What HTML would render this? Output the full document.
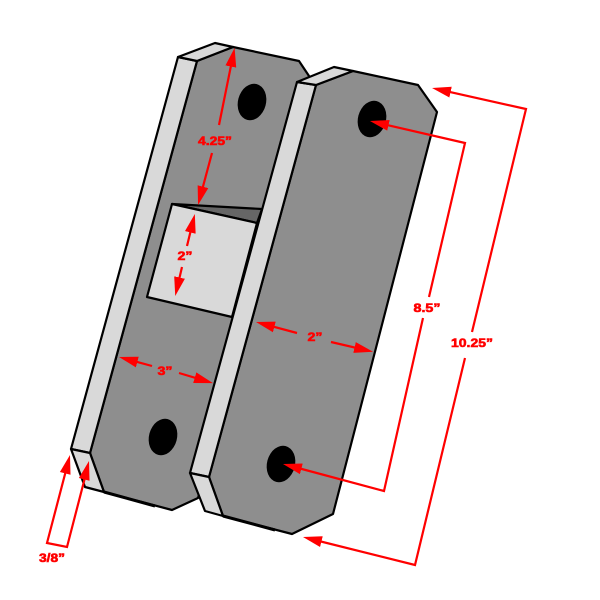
<!DOCTYPE html>
<html>
<head>
<meta charset="utf-8">
<style>
html,body{margin:0;padding:0;background:#fff;width:600px;height:600px;overflow:hidden}
svg{display:block}
.p{stroke:#000;stroke-width:2.2;stroke-linejoin:round}
.f{fill:#8e8e8e}
.l{fill:#d9d9d9}
.r{fill:none;stroke:#f00;stroke-width:2.2;stroke-linejoin:miter}
.a{marker-end:url(#h)}
text{font-family:"Liberation Sans",sans-serif;font-weight:bold;font-size:12px;fill:#f00;stroke:#f00;stroke-width:.6px;text-anchor:middle}
</style>
</head>
<body>
<svg width="600" height="600" viewBox="0 0 600 600" xmlns="http://www.w3.org/2000/svg">
<defs>
<marker id="h" markerUnits="userSpaceOnUse" markerWidth="22" markerHeight="13" refX="13" refY="6.5" orient="auto">
<polygon points="0,1 19,6.5 0,12" fill="#f00"/>
</marker>
</defs>

<!-- back plate -->
<polygon class="p f" points="197,61 233,47 299,61 309,76 230,400 198,498 172,510 104,492 90,453"/>
<polygon class="p l" points="178,57 197,61 90,453 71,449"/>
<polygon class="p l" points="178,57 215,43 233,47 197,61"/>
<polygon class="p l" points="71,449 90,453 104,492 85,487"/>
<polyline points="104,492 155,506" fill="none" stroke="#000" stroke-width="3"/>
<polygon class="p" fill="#666" points="172,204 262,209 257,223"/>
<polygon class="p l" points="172,204 257,223 232,317 147,297"/>
<ellipse cx="252" cy="102" rx="14" ry="18.5" transform="rotate(15 252 102)" fill="#000"/>
<ellipse cx="163" cy="437" rx="14" ry="18.5" transform="rotate(15 163 437)" fill="#000"/>

<!-- front plate -->
<polygon class="p f" points="316,85 353,71 418,85 437,112 333,514 292,534 223,516 209,477"/>
<polygon class="p l" points="297,82 316,85 209,477 190,473"/>
<polygon class="p l" points="297,82 334,67 353,71 316,85"/>
<polygon class="p l" points="190,473 209,477 223,516 205,511"/>
<polyline points="223,516 275,530" fill="none" stroke="#000" stroke-width="3"/>
<ellipse cx="372" cy="119" rx="14" ry="18.5" transform="rotate(15 372 119)" fill="#000"/>
<ellipse cx="281" cy="464" rx="14" ry="18.5" transform="rotate(15 281 464)" fill="#000"/>

<!-- dimension arrows -->
<path class="r a" d="M219,125 L233.4,53.8"/>
<path class="r a" d="M212,153 L199.6,199.2"/>
<path class="r a" d="M187,246 L193.4,219.8"/>
<path class="r a" d="M182,267 L176.6,290.2"/>
<path class="r a" d="M152,366 L124.8,358.6"/>
<path class="r a" d="M179,373 L207.2,381.4"/>
<path class="r a" d="M297,333 L261.8,323.6"/>
<path class="r a" d="M331,342 L367.2,350.4"/>
<path class="r a" d="M429,297 L465,143 L375.8,122.4"/>
<path class="r a" d="M423,318 L384,491 L288.8,465.5"/>
<path class="r a" d="M472,332 L526,109 L437.9,89.3"/>
<path class="r a" d="M465,358 L415,565 L308.8,538.5"/>
<path class="r" d="M68.5,460.8 L47,543 L67,547 L87.5,467.8"/>
<polygon fill="#f00" points="70,455 59.9,472 70.5,474.8"/>
<polygon fill="#f00" points="89,461 78.9,478 89.5,480.8"/>

<!-- labels -->
<text x="215" y="145" textLength="34" lengthAdjust="spacingAndGlyphs">4.25”</text>
<text x="185" y="260" textLength="15" lengthAdjust="spacingAndGlyphs">2”</text>
<text x="165" y="375" textLength="15" lengthAdjust="spacingAndGlyphs">3”</text>
<text x="315" y="341" textLength="15" lengthAdjust="spacingAndGlyphs">2”</text>
<text x="427" y="312" textLength="27" lengthAdjust="spacingAndGlyphs">8.5”</text>
<text x="472" y="347" textLength="42" lengthAdjust="spacingAndGlyphs">10.25”</text>
<text x="52" y="562" textLength="26" lengthAdjust="spacingAndGlyphs">3/8”</text>
</svg>
</body>
</html>
